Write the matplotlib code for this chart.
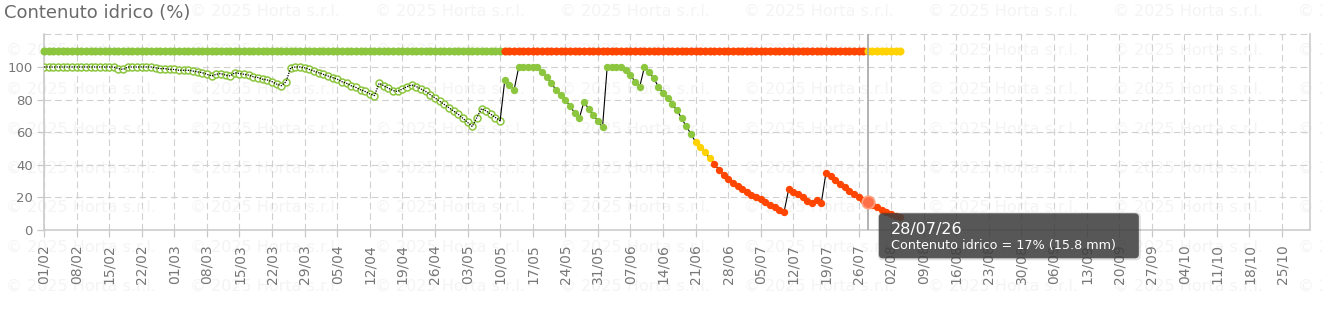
"""
Contenuto idrico del suolo (%) - grafico giornaliero con barra di stato e tooltip
"""

import numpy as np
import pandas as pd
import matplotlib
matplotlib.use("Agg")
import matplotlib.pyplot as plt
import matplotlib.dates as mdates
import matplotlib.transforms as mtransforms
from matplotlib.patches import FancyBboxPatch

# ---- data ----
start_date = "2026-02-01"
water_content = [
    100, 100, 100, 100, 100, 100, 100,
    100, 100, 100, 100, 100, 100, 100,
    100, 100, 99, 98.5, 100, 100, 100,
    100, 100, 100, 99.5, 99, 99, 98.5,
    98.5, 98, 98, 98, 97.5, 97, 96.5,
    95.5, 94.5, 95.5, 96, 95, 94.5, 96.5,
    96, 95.5, 95, 94, 93.5, 92.5, 92,
    91, 89.5, 88.5, 91, 99.5, 100, 100,
    99.5, 98.5, 97.5, 96.5, 95.5, 94.5, 93.5,
    92.5, 91, 90, 88.5, 87.5, 86, 85,
    83.5, 82.5, 90, 88.5, 87, 85.5, 85,
    86.5, 88, 89, 88, 86.5, 85, 83,
    81, 79, 77, 75, 73, 71, 68.5,
    66, 63.5, 69, 74.5, 73, 71, 69,
    67, 92, 89, 86, 100, 100, 100,
    100, 100, 97, 94, 90, 86, 83,
    80, 76, 72, 68.5, 78.5, 74.5, 70.5,
    67, 63, 100, 100, 100, 100, 98,
    95, 91, 88, 100, 97, 93, 88,
    84, 81, 77, 73.5, 68.5, 63.5, 59,
    54, 51, 48, 44, 40.5, 37, 34,
    31.5, 29, 27, 25, 23.3, 21.7, 20.2,
    18.8, 17, 15.5, 14, 12.5, 11, 25,
    23.5, 22, 20, 18, 16.5, 18.5, 16.5,
    35, 33, 30.5, 28.5, 26.5, 24, 22,
    20, 18.5, 17, 15.5, 14, 12.5, 11,
    10, 8.8, 7.8,
]

# level in force from each date on
curve_levels = [("2026-02-01", "past"), ("2026-05-11", "ok"),
                ("2026-06-21", "warn"), ("2026-06-25", "stress")]
bar_levels = [("2026-02-01", "ok"), ("2026-05-11", "stress"),
              ("2026-07-28", "warn")]

highlight_date = "2026-07-28"
highlight_mm = 15.8
tick_start, tick_end = "2026-02-01", "2026-10-25"
y_ticks = [0, 20, 40, 60, 80, 100]
watermark = "\u00a9 2025 Horta s.r.l."

GREEN = "#8cc63f"
COLORS = {"past": GREEN, "ok": GREEN, "warn": "#ffd200", "stress": "#ff4500"}
BAR_Y = 110
W, H = 1322, 311


def day_levels(dates, changes):
    """Returns the level name in force on each date"""
    change_dates = pd.to_datetime([c[0] for c in changes]).values
    names = np.array([c[1] for c in changes])
    idx = np.searchsorted(change_dates, dates.values, side="right") - 1
    return names[idx]


def draw_watermark(fig):
    """Faint copyright text tiled over the figure"""
    for i in range(8):
        for k in range(8):
            fig.text((6 + 184.5 * k) / W, 1 - (11 + 39.3 * i) / H, watermark,
                     fontsize=11.5, color="#f4f4f4",
                     ha="left", va="center", zorder=-5)


def style_axes(ax):
    """Grid, ticks and spines"""
    x0 = pd.Timestamp(start_date)
    ax.set_xlim(x0, x0 + pd.Timedelta(days=272))
    ax.set_ylim(0, 120)
    ax.set_yticks(y_ticks)
    ticks = pd.date_range(tick_start, tick_end, freq="7D")
    ax.set_xticks(ticks)
    ax.set_xticklabels([t.strftime("%d/%m") for t in ticks], rotation=90)
    ax.grid(True, color="#d0d0d0", lw=0.8, ls=(0, (6, 3.5)), zorder=0)
    ax.axhline(120, color="#d0d0d0", lw=0.8, ls=(0, (6, 3.5)), clip_on=False)
    ax.tick_params(axis="both", color="#c8c8c8", labelcolor="#777777",
                   length=5, width=0.9, labelsize=9.5)
    ax.tick_params(axis="x", pad=5, labelsize=10)
    ax.tick_params(axis="y", pad=3)
    for side in ["left", "bottom", "right"]:
        ax.spines[side].set_color("#cccccc")
        ax.spines[side].set_linewidth(1.2)
    ax.spines["top"].set_visible(False)


def draw_tooltip(fig, ax, date, value):
    """Dark rounded box next to the highlighted point"""
    mx, my = ax.transData.transform((mdates.date2num(date), value))
    left, top, bw, bh = mx + 11, my - 11, 260, 45
    ident = mtransforms.IdentityTransform()
    shadow = FancyBboxPatch((left - 1, top - bh - 2), bw + 3, bh + 3,
                            boxstyle="round,pad=0,rounding_size=5",
                            fc="black", ec="none", alpha=0.12,
                            transform=ident, zorder=9)
    box = FancyBboxPatch((left, top - bh), bw, bh,
                         boxstyle="round,pad=0,rounding_size=4",
                         fc="#404040", ec="none", alpha=0.86,
                         transform=ident, zorder=10)
    fig.add_artist(shadow)
    fig.add_artist(box)
    fig.text(left + 12, top - 16, date.strftime("%d/%m/%y"), color="white",
             fontsize=11.5, ha="left", va="center", transform=ident, zorder=11)
    label = f"Contenuto idrico = {value:.0f}% ({highlight_mm} mm)"
    fig.text(left + 12, top - 32, label, color="white", fontsize=9.2,
             ha="left", va="center", transform=ident, zorder=11)


def main():
    """Builds the chart"""
    dates = pd.date_range(start_date, periods=len(water_content), freq="D")
    values = np.array(water_content, dtype=float)
    levels = day_levels(dates, curve_levels)
    bar = day_levels(dates, bar_levels)

    fig = plt.figure(figsize=(W / 100, H / 100), dpi=100)
    ax = fig.add_axes([44 / W, 81 / H, 1266 / W, 195.6 / H])
    ax.patch.set_alpha(0)
    draw_watermark(fig)
    fig.text(4 / W, 1 - 13 / H, "Contenuto idrico (%)", fontsize=13,
             color="#6a6a6a", ha="left", va="center",
             bbox=dict(fc="white", ec="none", pad=1))

    # past part: hollow circles with dotted line
    past = levels == "past"
    last = np.where(past)[0][-1]
    ax.plot(dates[:last + 1], values[:last + 1], color="black",
            ls=(0, (1, 1)), lw=0.9, zorder=4)
    ax.plot(dates[past], values[past], ls="none", marker="o", ms=5,
            mfc="white", mec=GREEN, mew=1.1, zorder=3)

    # current part: filled circles on a thin line
    ax.plot(dates[last:], values[last:], color="black", lw=0.8, zorder=3)
    for lvl in ["ok", "warn", "stress"]:
        m = levels == lvl
        ax.plot(dates[m], values[m], ls="none", marker="o", ms=5.3,
                color=COLORS[lvl], mec="none", zorder=5)

    # status bar on top
    for lvl in ["ok", "stress", "warn"]:
        m = bar == lvl
        ax.plot(dates[m], np.full(m.sum(), BAR_Y), ls="none", marker="o",
                ms=5.8, color=COLORS[lvl], mec="none", zorder=5,
                clip_on=False)

    hl = pd.Timestamp(highlight_date)
    hv = values[dates.get_loc(hl)]
    ax.axvline(hl, color="#a6a6a6", lw=1.2, zorder=6)
    ax.plot([hl], [hv], marker="o", ms=9, mfc="#ff7048", mec="#ffa080",
            mew=1.2, zorder=7)

    style_axes(ax)
    draw_tooltip(fig, ax, hl, hv)
    fig.savefig("out.png", dpi=100)


main()
